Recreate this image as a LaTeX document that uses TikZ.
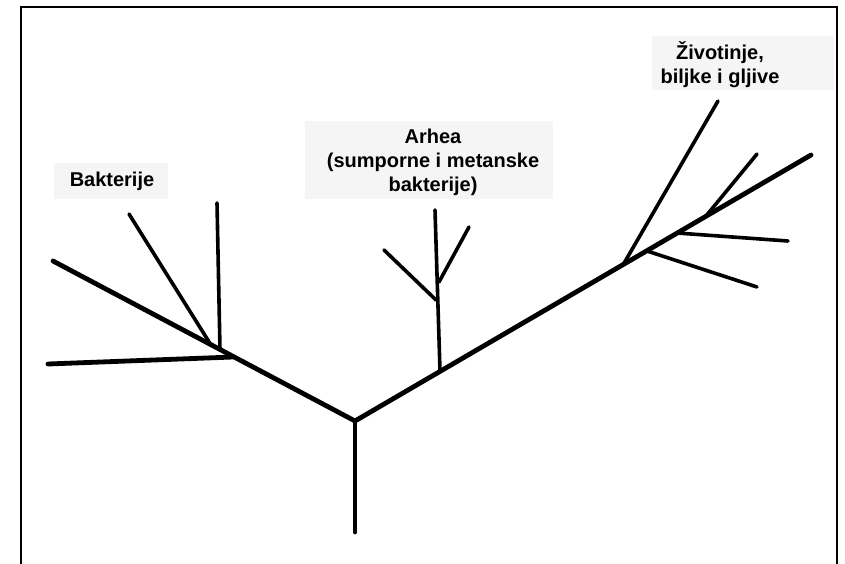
\documentclass[tikz,border=0pt]{standalone}
\usepackage{fontspec}
\setmainfont{Liberation Sans}

\begin{document}
\begin{tikzpicture}[x=1pt,y=-1pt,
    branch/.style={line width=4.8pt,line cap=round},
    twig/.style={line width=3.6pt,line cap=round},
    lblbox/.style={fill=black!4},
    lbl/.style={align=center,inner sep=0pt,
      font=\bfseries\fontsize{20}{24}\selectfont}]
  \useasboundingbox (0,0) rectangle (845,564);
  \draw[line width=2.5pt] (21,570) -- (21,7) -- (837,7) -- (837,570);
  % label backgrounds
  \fill[lblbox] (54,163) rectangle (168,199);
  \fill[lblbox] (305,121) rectangle (553,199);
  \fill[lblbox] (652,36) rectangle (834,90);
  % trunk
  \coordinate (root) at (355,532);
  \coordinate (fork) at (355,421);
  \draw[branch] (root) -- (fork);
  % bakterije
  \coordinate (lend) at (53,261);
  \coordinate (bakh) at (233,357);
  \coordinate (bakd) at (211,345);
  \coordinate (bakv) at (220,350);
  \coordinate (bakhtip) at (48,364);
  \coordinate (bakdtip) at (129,214);
  \coordinate (bakvtip) at (217,203);
  \draw[branch] (fork) -- (lend);
  \draw[branch] (bakh) -- (bakhtip);
  \draw[twig] (bakd) -- (bakdtip);
  \draw[twig] (bakv) -- (bakvtip);
  % arhea
  \coordinate (rend) at (811,155);
  \coordinate (arh) at (440,371);
  \coordinate (arhtop) at (435,210);
  \coordinate (arhl) at (436,300);
  \coordinate (arhr) at (439,282);
  \coordinate (arhltip) at (384,250);
  \coordinate (arhrtip) at (469,227);
  \draw[branch] (fork) -- (rend);
  \draw[twig] (arh) -- (arhtop);
  \draw[twig] (arhl) -- (arhltip);
  \draw[twig] (arhr) -- (arhrtip);
  % zivotinje, biljke, gljive
  \coordinate (ziv) at (623,265);
  \coordinate (zivb) at (706,216);
  \coordinate (zivc) at (677,233);
  \coordinate (zivd) at (647,251);
  \draw[twig] (ziv) -- (718,101) coordinate (zivatip);
  \draw[twig] (zivb) -- (757,154) coordinate (zivbtip);
  \draw[twig] (zivc) -- (788,241) coordinate (zivctip);
  \draw[twig] (zivd) -- (757,287) coordinate (zivdtip);
  % labels
  \node[lbl] (nbak) at (112,181) {Bakterije};
  \node[lbl] (narh) at (433,162) {Arhea\\(sumporne i metanske\\bakterije)};
  \node[lbl] (nziv) at (720,65) {Životinje,\\biljke i gljive};
\end{tikzpicture}
\end{document}
